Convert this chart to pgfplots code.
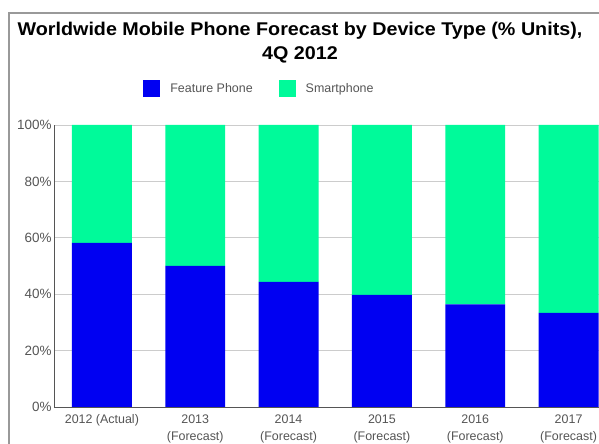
\documentclass[border=0pt]{standalone}
\usepackage{pgfplots}
\pgfplotsset{compat=1.18}
\usepackage{fontspec}
\setmainfont{Liberation Sans}
\definecolor{fblue}{HTML}{0000F2}
\definecolor{sgreen}{HTML}{00FA9A}
\definecolor{tgray}{HTML}{555555}
\definecolor{gridgray}{HTML}{CCCCCC}
\begin{document}
\begin{tikzpicture}[x=1bp,y=1bp]
\useasboundingbox (0,0) rectangle (599,444);
\fill[white] (0,0) rectangle (599,444);
\draw[color=gray!80,line width=1.2bp] (9,0) -- (9,431) -- (599,431);
\node[anchor=base] at (300,408) {\scalebox{1.07}[1]{\bfseries\fontsize{18.5}{24}\selectfont Worldwide Mobile Phone Forecast by Device Type (\% Units),}};
\node[anchor=base] at (300,384) {\scalebox{1.07}[1]{\bfseries\fontsize{18.5}{24}\selectfont 4Q 2012}};
\begin{axis}[
  at={(54bp,37bp)}, anchor=south west,
  scale only axis, width=545bp, height=282bp,
  xmin=-0.513, xmax=5.326, ymin=0, ymax=100,
  ybar stacked, bar width=0.642,
  axis x line*=bottom, axis y line*=left,
  axis line style={color=tgray, line width=0.8bp},
  x axis line style={-}, y axis line style={-},
  xtick={0,1,2,3,4,5}, xtick style={draw=none},
  xticklabels={2012 (Actual), {2013\\(Forecast)}, {2014\\(Forecast)}, {2015\\(Forecast)}, {2016\\(Forecast)}, {2017\\(Forecast)}},
  xticklabel style={align=center, font=\fontsize{12.5}{17.5}\selectfont, text=tgray, anchor=north, yshift=-4bp},
  ytick={0,20,40,60,80,100}, ytick style={draw=none},
  yticklabels={0\%,20\%,40\%,60\%,80\%,100\%},
  yticklabel style={font=\fontsize{13.5}{15}\selectfont, text=tgray, xshift=1bp},
  ymajorgrids, grid style={gridgray, line width=0.7bp},
  legend columns=2,
  legend style={at={(0.377,1.128)}, anchor=center, draw=none, fill=none,
    font=\fontsize{12.5}{14}\selectfont, text=tgray,
    /tikz/every even column/.append style={column sep=24bp}},
  legend image code/.code={\fill[#1] (0bp,-8.5bp) rectangle (17bp,8.5bp);},
  every axis plot/.append style={draw=none},
]
\addplot[fill=fblue] coordinates {(0,58.2) (1,50.0) (2,44.4) (3,39.8) (4,36.4) (5,33.4)};
\addplot[fill=sgreen] coordinates {(0,41.8) (1,50.0) (2,55.6) (3,60.2) (4,63.6) (5,66.6)};
\legend{\hspace{8bp}Feature Phone, \hspace{8bp}Smartphone}
\end{axis}
\end{tikzpicture}
\end{document}
